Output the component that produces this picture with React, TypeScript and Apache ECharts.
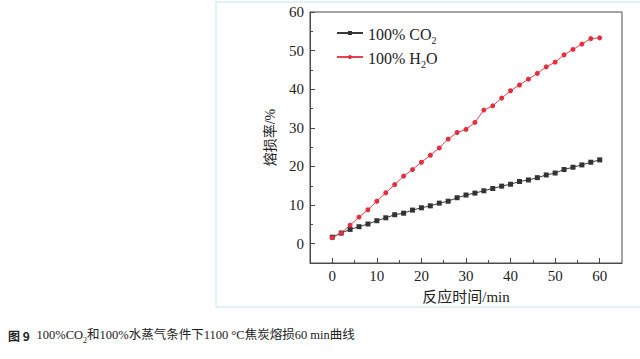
import React, { useEffect, useRef } from "react";
import * as echarts from "echarts";

const timeMin = [0, 2, 4, 6, 8, 10, 12, 14, 16, 18, 20, 22, 24, 26, 28, 30, 32, 34, 36, 38, 40, 42, 44, 46, 48, 50, 52, 54, 56, 58, 60];
const co2Loss = [1.7, 2.75, 3.7, 4.4, 5.1, 5.95, 6.7, 7.5, 7.9, 8.7, 9.3, 9.8, 10.5, 11.0, 11.9, 12.6, 13.1, 13.7, 14.3, 14.9, 15.4, 16.1, 16.5, 17.1, 17.8, 18.3, 19.2, 19.8, 20.4, 21.1, 21.7];
const h2oLoss = [1.55, 2.75, 4.8, 6.9, 8.8, 11.0, 13.2, 15.3, 17.5, 19.2, 21.1, 22.9, 24.8, 27.1, 28.8, 29.6, 31.4, 34.6, 35.7, 37.7, 39.6, 41.1, 42.6, 44.1, 45.8, 47.0, 48.9, 50.3, 51.7, 53.1, 53.3];
const majorTicks = [0, 10, 20, 30, 40, 50, 60];
const minorTicksX = [5, 15, 25, 35, 45, 55];
const minorTicksY = [5, 15, 25, 35, 45, 55];

const SERIF = "'Liberation Serif', 'Times New Roman', serif";
const CJK = "'Noto Sans CJK SC', sans-serif";

export default function App() {
  const ref = useRef<HTMLDivElement>(null);
  useEffect(() => {
    document.body.style.margin = "0";
    const chart = echarts.init(ref.current!, undefined, { renderer: "svg" });
    const frame = "#4a4a4a";
    const mkX = (ticks: number[], len: number, main: boolean) => ({
      type: "value",
      min: -5,
      max: 65,
      position: "bottom",
      axisLine: { show: main, onZero: false, lineStyle: { color: frame, width: 1 } },
      axisTick: { show: true, inside: true, length: len, customValues: ticks, lineStyle: { color: frame } },
      axisLabel: main
        ? { show: true, customValues: majorTicks, margin: 5, color: "#222", fontFamily: SERIF, fontSize: 15 }
        : { show: false },
      splitLine: { show: false },
      name: main ? "反应时间/min" : "",
      nameLocation: "middle",
      nameGap: 26,
      nameTextStyle: { color: "#222", fontFamily: SERIF + "," + CJK, fontSize: 15 },
    });
    const mkY = (ticks: number[], len: number, main: boolean) => ({
      type: "value",
      min: -5,
      max: 60,
      position: "left",
      axisLine: { show: main, onZero: false, lineStyle: { color: frame, width: 1 } },
      axisTick: { show: true, inside: true, length: len, customValues: ticks, lineStyle: { color: frame } },
      axisLabel: main
        ? { show: true, customValues: majorTicks, margin: 6, color: "#222", fontFamily: SERIF, fontSize: 15 }
        : { show: false },
      splitLine: { show: false },
      name: main ? "熔损率/%" : "",
      nameLocation: "middle",
      nameGap: 33,
      nameRotate: 90,
      nameTextStyle: { color: "#222", fontFamily: SERIF + "," + CJK, fontSize: 14 },
    });
    chart.setOption({
      animation: false,
      backgroundColor: "#fff",
      grid: { left: 310, right: 18, top: 12, bottom: 96, show: true, borderColor: frame, borderWidth: 1, backgroundColor: "transparent" },
      xAxis: [mkX(majorTicks, 5, true), mkX(minorTicksX, 3, false)],
      yAxis: [mkY(majorTicks, 5, true), mkY(minorTicksY, 3, false)],
      legend: {
        orient: "vertical",
        left: 331,
        top: 21,
        itemWidth: 26,
        itemHeight: 5,
        itemGap: 5,
        data: ["CO2", "H2O"],
        formatter: (name: string) => (name === "CO2" ? "{n|100% CO}{s|2}" : "{n|100% H}{s|2}{n|O}"),
        textStyle: {
          color: "#222",
          rich: {
            n: { fontFamily: SERIF, fontSize: 16, color: "#222", verticalAlign: "bottom", lineHeight: 18 },
            s: { fontFamily: SERIF, fontSize: 10, color: "#222", verticalAlign: "bottom", lineHeight: 12, padding: [0, 0, -3, 0] },
          },
        },
      },
      series: [
        {
          name: "CO2",
          type: "line",
          data: timeMin.map((t, i) => [t, co2Loss[i]]),
          symbol: "rect",
          symbolSize: 5,
          lineStyle: { color: "#3a3a3a", width: 1 },
          itemStyle: { color: "#333" },
        },
        {
          name: "H2O",
          type: "line",
          data: timeMin.map((t, i) => [t, h2oLoss[i]]),
          symbol: "circle",
          symbolSize: 5,
          lineStyle: { color: "#e8404f", width: 1 },
          itemStyle: { color: "#e62d3e" },
        },
      ],
      graphic: [
        {
          type: "rect",
          shape: { x: 216, y: 2, width: 440, height: 305 },
          style: { fill: "none", stroke: "#d8eef2", lineWidth: 1.5 },
          silent: true,
        },
        {
          type: "text",
          x: 8,
          y: 335,
          style: {
            text: "{b|图 9}  {n|100%CO}{s|2}{n|和100%水蒸气条件下1100 °C焦炭熔损60 min曲线}",
            verticalAlign: "middle",
            rich: {
              b: { fontFamily: CJK, fontWeight: "bold", fontSize: 12, fill: "#222", color: "#222" },
              n: { fontFamily: SERIF + "," + CJK, fontSize: 12.5, fill: "#222", color: "#222" },
              s: { fontFamily: SERIF, fontSize: 8, fill: "#222", color: "#222", verticalAlign: "bottom", padding: [0, 0, -3, 0] },
            },
          },
        },
      ],
    });
    return () => chart.dispose();
  }, []);
  return <div ref={ref} style={{ width: 640, height: 359, position: "absolute", left: 0, top: 0 }} />;
}
